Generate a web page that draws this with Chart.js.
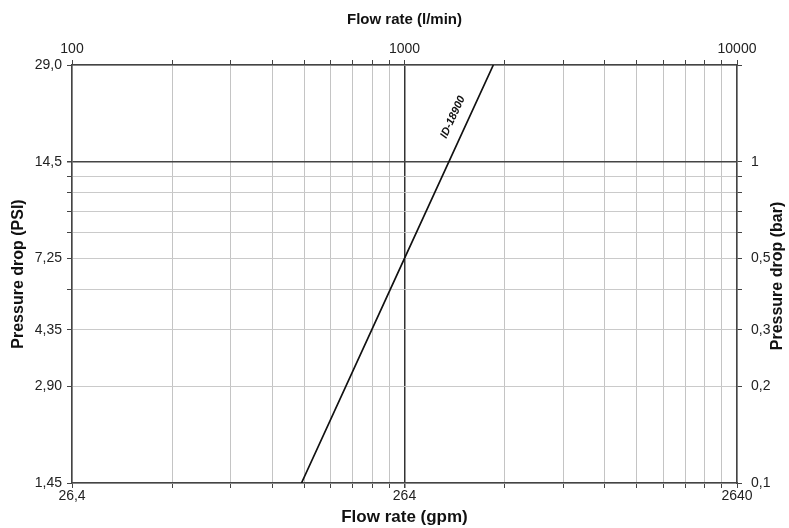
<!DOCTYPE html>
<html>
<head>
<meta charset="utf-8">
<script src="https://cdn.jsdelivr.net/npm/chart.js@4.4.1/dist/chart.umd.min.js"></script>
<style>
  body { margin: 0; background: #fff; }
</style>
</head>
<body>
<canvas id="dropChart" width="789" height="528"></canvas>
<script>
// curve ID-18900: flow (l/min) vs pressure drop (bar)
const flowLpm = [490, 1000, 1850];
const dropBar = [0.1, 0.5, 2.0];

// axis ticks
const flowTicks = [100, 1000, 10000];
const gpmLabels = ['26,4', '264', '2640'];
const flowGrid = [100, 200, 300, 400, 500, 600, 700, 800, 900,
                  1000, 2000, 3000, 4000, 5000, 6000, 7000, 8000, 9000, 10000];
const barTicks = [0.1, 0.2, 0.3, 0.5, 1];
const barLabels = ['0,1', '0,2', '0,3', '0,5', '1'];
const psiTicks = [0.1, 0.2, 0.3, 0.5, 1, 2];
const psiLabels = ['1,45', '2,90', '4,35', '7,25', '14,5', '29,0'];
const dropGrid = [0.1, 0.2, 0.3, 0.4, 0.5, 0.6, 0.7, 0.8, 0.9, 1, 2];

const FONT = "Arial, 'Liberation Sans', sans-serif";
const tickFont = { family: FONT, size: 14 };

function setTicks(values) {
  return function (scale) {
    scale.ticks = values.map(v => ({ value: v }));
  };
}
function fixSize(prop, px) {
  return function (scale) { scale[prop] = px; };
}
function near(a, b) { return Math.abs(a - b) < 1e-9 * Math.max(1, b); }

// right axis title (reads bottom to top) and the curve label
const extras = {
  id: 'extras',
  afterDraw(chart) {
    const ctx = chart.ctx;
    const xs = chart.scales.x, ys = chart.scales.y;
    ctx.save();
    ctx.fillStyle = '#111';
    ctx.font = 'bold 16px ' + FONT;
    ctx.textAlign = 'center';
    ctx.textBaseline = 'middle';
    ctx.translate(778, (ys.top + ys.bottom) / 2 + 2);
    ctx.rotate(-Math.PI / 2);
    ctx.fillText('Pressure drop (bar)', 0, 0);
    ctx.restore();

    // label along the line
    const x0 = xs.getPixelForValue(flowLpm[0]), y0 = ys.getPixelForValue(dropBar[0]);
    const x1 = xs.getPixelForValue(flowLpm[2]), y1 = ys.getPixelForValue(dropBar[2]);
    const ang = Math.atan2(y1 - y0, x1 - x0);
    const t = 0.86;
    const px = x0 + (x1 - x0) * t, py = y0 + (y1 - y0) * t;
    const off = 15;
    ctx.save();
    ctx.translate(px + Math.sin(ang) * off, py - Math.cos(ang) * off);
    ctx.rotate(ang);
    ctx.fillStyle = '#111';
    ctx.font = 'bold italic 11px ' + FONT;
    ctx.textAlign = 'center';
    ctx.textBaseline = 'middle';
    ctx.fillText('ID-18900', 0, 0);
    ctx.restore();
  }
};

const ctx = document.getElementById('dropChart').getContext('2d');
const myChart = new Chart(ctx, {
  type: 'scatter',
  data: {
    datasets: [{
      label: 'ID-18900',
      data: flowLpm.map((f, i) => ({ x: f, y: dropBar[i] })),
      showLine: true,
      borderColor: '#111',
      borderWidth: 1.7,
      pointRadius: 0,
      xAxisID: 'x',
      yAxisID: 'y'
    }]
  },
  options: {
    responsive: false,
    animation: false,
    layout: { padding: 0 },
    plugins: { legend: { display: false }, tooltip: { enabled: false } },
    scales: {
      x: {
        type: 'logarithmic', position: 'bottom', min: 100, max: 10000,
        afterBuildTicks: setTicks(flowGrid),
        afterFit: fixSize('height', 45),
        grid: {
          color: c => (c.tick && c.tick.value === 1000) ? '#333' : '#c4c4c4',
          lineWidth: c => (c.tick && c.tick.value === 1000) ? 1.5 : 1,
          tickColor: '#444', tickLength: 5
        },
        border: { color: '#444', width: 1.5 },
        ticks: {
          autoSkip: false, maxRotation: 0, padding: 0, color: '#222', font: tickFont,
          callback: v => { const i = flowTicks.findIndex(t => near(v, t)); return i < 0 ? '' : gpmLabels[i]; }
        },
        title: { display: true, text: 'Flow rate (gpm)', color: '#111',
                 font: { family: FONT, size: 17, weight: 'bold' }, padding: { top: 0, bottom: 0 } }
      },
      x2: {
        type: 'logarithmic', position: 'top', min: 100, max: 10000,
        afterBuildTicks: setTicks(flowGrid),
        afterFit: fixSize('height', 65),
        grid: { drawOnChartArea: false, tickColor: '#444', tickLength: 5 },
        border: { color: '#444', width: 1.5 },
        ticks: {
          autoSkip: false, maxRotation: 0, padding: 2, color: '#222', font: tickFont,
          callback: v => { const i = flowTicks.findIndex(t => near(v, t)); return i < 0 ? '' : String(flowTicks[i]); }
        },
        title: { display: true, text: 'Flow rate (l/min)', color: '#111',
                 font: { family: FONT, size: 15, weight: 'bold' }, padding: { top: 11, bottom: 0 } }
      },
      y: {
        type: 'logarithmic', position: 'left', min: 0.1, max: 2,
        afterBuildTicks: setTicks(dropGrid),
        afterFit: fixSize('width', 72),
        grid: {
          color: c => (c.tick && c.tick.value === 1) ? '#444' : '#cacaca',
          lineWidth: c => (c.tick && c.tick.value === 1) ? 1.5 : 1,
          tickColor: '#444', tickLength: 5
        },
        border: { color: '#444', width: 1.5 },
        ticks: {
          autoSkip: false, padding: 5, color: '#222', font: tickFont,
          callback: v => { const i = psiTicks.findIndex(t => near(v, t)); return i < 0 ? '' : psiLabels[i]; }
        },
        title: { display: true, text: 'Pressure drop (PSI)', color: '#111',
                 font: { family: FONT, size: 16, weight: 'bold' }, padding: { top: 9, bottom: 0 } }
      },
      y2: {
        type: 'logarithmic', position: 'right', min: 0.1, max: 2,
        afterBuildTicks: setTicks(dropGrid),
        afterFit: fixSize('width', 52),
        grid: { drawOnChartArea: false, tickColor: '#444', tickLength: 5 },
        border: { color: '#444', width: 1.5 },
        ticks: {
          autoSkip: false, padding: 9, color: '#222', font: tickFont,
          callback: v => { const i = barTicks.findIndex(t => near(v, t)); return i < 0 ? '' : barLabels[i]; }
        }
      }
    }
  },
  plugins: [extras]
});
</script>
</body>
</html>
